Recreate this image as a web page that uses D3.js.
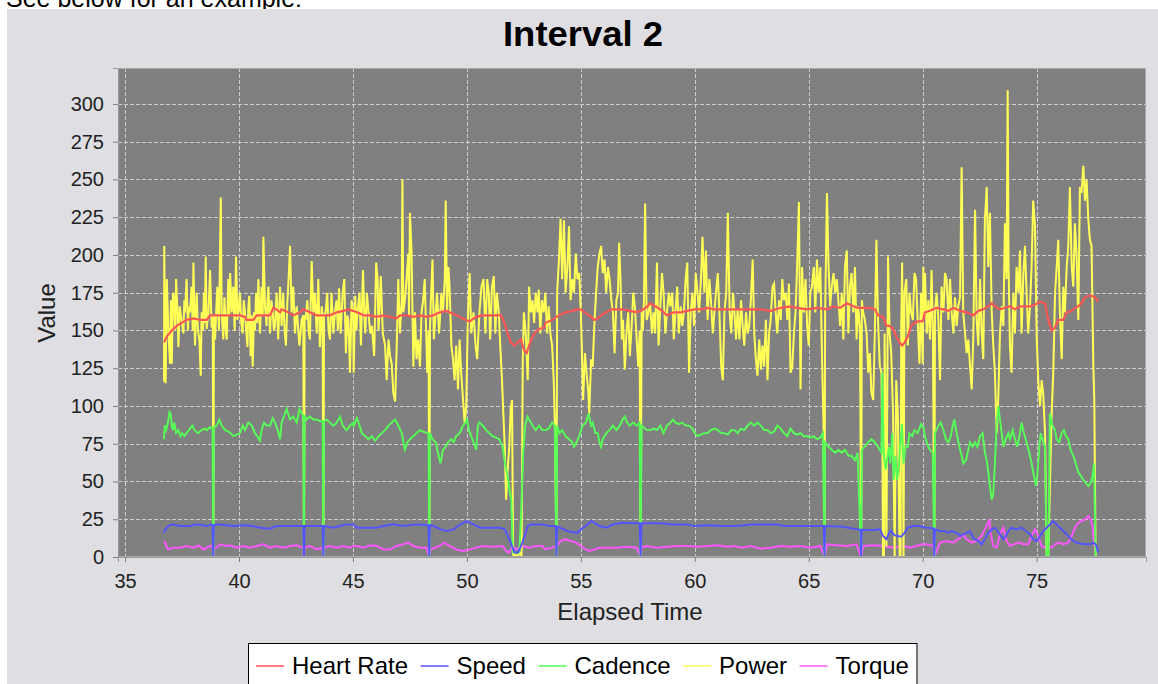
<!DOCTYPE html>
<html><head><meta charset="utf-8">
<script src="https://cdn.jsdelivr.net/npm/d3@7"></script>
<style>html,body{margin:0;padding:0;background:#fff;overflow:hidden}</style>
</head><body>
<svg id="c" width="1158" height="684"></svg>
<script>
// ---------------- DATA (elapsed time [min], value) ----------------
const seriesNames = ["Heart Rate", "Speed", "Cadence", "Power", "Torque"];
const xTicks = [35, 40, 45, 50, 55, 60, 65, 70, 75];
const yTicks = [0, 25, 50, 75, 100, 125, 150, 175, 200, 225, 250, 275, 300];

const heartRate = [[36.71,142],[36.83,146],[37.05,150],[37.27,153],[37.48,155],[37.70,157],[38.00,158],[38.29,157],[38.58,157],[38.73,160],[39.17,160],[39.46,160],[39.68,160],[40.04,160],[40.26,159],[40.33,157],[40.48,157],[40.63,157],[40.78,160],[41.07,160],[41.36,160],[41.51,165],[41.65,164],[41.80,162],[41.87,164],[42.02,163],[42.16,162],[42.38,160],[42.68,162],[42.82,164],[42.97,163],[43.11,162],[43.41,160],[43.70,160],[43.99,160],[44.28,162],[44.58,163],[44.80,164],[45.01,163],
[45.17,162],[45.47,160],[45.76,160],[46.04,159],[46.34,160],[46.63,159],[46.92,158],[47.06,160],[47.35,160],[47.65,159],[47.94,160],[48.23,159],[48.52,160],[48.81,162],[49.10,163],[49.24,162],[49.53,160],[49.83,158],[49.97,157],[50.12,156],[50.41,159],[50.70,160],[50.99,160],[51.28,160],[51.50,160],[51.64,155],[51.79,148],[51.93,142],[52.08,140],[52.22,142],[52.37,144],[52.51,137],[52.62,135],[52.73,140],[52.88,146],[53.02,149],[53.17,151],[53.39,152],
[53.44,155],[53.74,157],[54.04,160],[54.33,162],[54.63,163],[54.85,164],[55.00,164],[55.15,162],[55.37,160],[55.59,157],[55.74,158],[55.89,160],[56.11,162],[56.34,164],[56.63,164],[56.85,164],[57.15,163],[57.45,162],[57.74,164],[57.92,166],[58.04,168],[58.26,166],[58.49,164],[58.78,160],[59.08,162],[59.38,162],[59.67,163],[59.97,164],[60.27,164],[60.56,165],[60.86,164],[61.16,164],[61.45,164],[61.75,164],
[62.03,164],[62.46,164],[62.90,164],[63.33,163],[63.77,165],[64.20,166],[64.49,165],[64.93,164],[65.36,165],[65.80,164],[66.09,166],[66.38,165],[66.67,168],[66.96,166],[67.17,165],[67.39,165],[67.68,165],[67.90,164],[68.04,160],[68.26,159],[68.41,153],[68.55,153],[68.70,151],[68.84,146],[68.99,142],[69.10,140],[69.20,142],[69.35,146],[69.49,153],[69.64,155],[69.78,156],[70.00,156],
[70.10,162],[70.32,163],[70.61,165],[70.91,164],[71.13,163],[71.35,165],[71.64,163],[71.93,162],[72.22,160],[72.44,163],[72.66,164],[72.88,166],[73.03,168],[73.17,166],[73.39,164],[73.61,165],[73.83,166],[74.05,164],[74.27,166],[74.49,166],[74.71,166],[74.93,167],[75.15,169],[75.37,168],[75.51,157],[75.66,150],[75.81,152],[75.95,157],[76.17,157],[76.32,162],[76.54,163],[76.68,165],[76.83,166],[76.97,168],[77.12,172],[77.27,173],[77.41,173],[77.56,172],[77.70,169]];

const speed = [[36.71,16],[36.75,18],[36.90,20.5],[37.05,21.6],[37.41,20.5],[37.85,20.5],[38.14,21.6],[38.58,20.5],[38.80,21.6],[38.84,21],[38.87,0],[38.90,21],[39.02,21.6],[39.46,21],[39.75,20.5],[40.19,21],[40.63,20.5],[40.92,19.4],[41.36,18.7],[41.65,20.5],[42.09,20.5],[42.38,20.5],[42.68,20.5],[42.82,20.5],[42.85,0],[42.88,20.5],[43.41,20.5],[43.67,20.5],[43.70,0],[43.73,20.5],[44.14,19.4],[44.43,20.5],[44.72,21.6],[45.01,21.6],
[45.17,19.4],[45.61,19.4],[46.04,19.4],[46.34,20.5],[46.77,21.6],[47.21,20.5],[47.79,21.6],[48.32,21],[48.35,0],[48.38,21],[48.55,20.5],[48.84,18.3],[49.13,17.2],[49.42,18.3],[49.72,21.6],[50.00,23.8],[50.29,21.6],[50.58,19.4],[51.02,19.4],[51.45,19.4],[51.66,18.3],[51.80,13.9],[51.95,8.4],[52.09,2.9],[52.24,2.9],[52.38,7.3],[52.53,13.9],[52.67,20.5],[52.81,21.6],[53.31,21.6],
[53.59,20.5],[53.90,20.5],[53.93,0],[53.96,20],[54.26,18.3],[54.41,17.2],[54.63,16.5],[54.85,16],[55.00,18.3],[55.22,20.5],[55.45,23.8],[55.59,22.7],[55.82,20.5],[56.11,19.4],[56.41,21.6],[56.85,22.7],[57.30,22.3],[57.58,22.3],[57.62,0],[57.67,22.3],[58.49,22.3],[59.08,21.6],[59.67,21.6],[59.97,20.5],[60.56,21],[61.16,20.5],[61.75,20.5],
[62.17,21],[62.46,21.6],[63.04,21.6],[63.62,21.6],[63.91,20.5],[64.49,20.5],[65.07,20.5],[65.51,20.5],[65.66,20.5],[65.69,0],[65.72,20.5],[66.52,20],[66.96,18.7],[67.27,18],[67.30,0],[67.33,18],[67.83,17.9],[68.12,18.3],[68.26,13.9],[68.41,11.7],[68.52,16],[68.62,17.2],[68.77,14.3],[68.91,13.9],[69.06,13.4],[69.20,16],[69.35,19.4],[69.57,20.5],[69.86,20.5],
[70.18,19.4],[70.48,19],[70.51,0],[70.54,18.3],[70.76,17.2],[70.98,17.2],[71.13,16],[71.27,17.2],[71.49,16],[71.64,13.9],[71.78,15],[71.93,16],[72.08,17],[72.22,12.5],[72.44,10.6],[72.59,8.4],[72.73,11.7],[72.88,16],[73.03,18.3],[73.17,19.4],[73.39,15],[73.54,11.7],[73.65,13.9],[73.76,17.2],[73.90,19.4],[74.12,18.3],[74.34,19.4],[74.53,17.2],[74.71,15],[74.85,11.7],[75.00,10.6],[75.15,13.9],[75.29,17.2],[75.44,19.4],[75.59,21.6],[75.73,23.8],[75.88,21.6],[76.02,19.4],[76.17,17.2],[76.32,15],[76.46,12.8],[76.61,10.6],[76.75,9.5],[76.90,9],[77.19,8.4],[77.34,8.4],[77.49,9.5],[77.60,8.4],[77.70,2.9]];

const cadence = [[36.71,78],[36.74,87],[36.80,84],[36.88,89],[36.95,96],[37.00,95],[37.05,87],[37.10,84],[37.16,89],[37.24,82],[37.34,84],[37.43,80],[37.50,82],[37.60,80],[37.70,82],[37.80,84],[37.95,87],[38.05,84],[38.20,82],[38.35,84],[38.50,85],[38.60,84],[38.70,86],[38.84,85],[38.87,0],[38.90,86],[39.02,87],[39.14,91],[39.24,87],[39.39,84],[39.53,83],[39.63,82],[39.75,80],[39.90,81],[40.04,82],[40.16,87],[40.26,84],[40.41,89],[40.56,87],[40.70,82],[40.85,79],[40.92,77],[40.99,84],[41.10,89],[41.21,87],[41.36,87],[41.48,92],[41.58,89],[41.72,83],[41.80,78],[41.87,89],[41.97,93],[42.09,98],[42.24,91],[42.38,93],[42.53,89],[42.65,98],[42.75,95],[42.82,94],[42.85,0],[42.88,94],[42.97,91],[43.11,93],[43.26,91],[43.41,91],[43.55,90],[43.67,90],[43.70,0],[43.73,90],[43.85,91],[43.99,89],[44.14,87],[44.28,89],[44.43,93],[44.55,87],[44.72,84],[44.87,87],[45.01,89],
[45.03,87],[45.17,92],[45.29,87],[45.39,82],[45.54,80],[45.68,78],[45.83,80],[45.97,77],[46.12,80],[46.27,82],[46.41,84],[46.56,87],[46.70,89],[46.85,91],[46.99,87],[47.14,82],[47.28,71],[47.39,76],[47.50,78],[47.65,80],[47.79,82],[47.94,84],[48.08,83],[48.26,82],[48.32,82],[48.35,0],[48.38,82],[48.49,78],[48.63,76],[48.73,69],[48.84,62],[48.95,71],[49.07,73],[49.17,76],[49.32,78],[49.42,76],[49.53,80],[49.68,82],[49.83,87],[49.94,89],[50.00,91],[50.09,84],[50.19,80],[50.29,76],[50.41,71],[50.48,87],[50.55,89],[50.70,87],[50.84,84],[50.99,82],[51.13,80],[51.28,79],[51.42,78],[51.57,73],[51.69,60],[51.79,54],[51.86,45],[51.95,38],[52.01,3],[52.15,3],[52.30,3],[52.38,29],[52.47,69],[52.56,87],[52.66,93],[52.73,91],[52.88,87],[53.02,84],[53.17,87],[53.31,84],
[53.44,84],[53.59,85],[53.74,89],[53.86,87],[53.93,0],[53.96,87],[54.06,82],[54.18,84],[54.33,80],[54.48,78],[54.63,76],[54.70,73],[54.81,76],[54.93,80],[55.07,87],[55.22,89],[55.34,95],[55.45,87],[55.52,89],[55.64,82],[55.74,82],[55.82,76],[55.89,73],[55.96,78],[56.11,82],[56.26,84],[56.41,87],[56.56,84],[56.71,87],[56.83,91],[56.93,93],[57.03,89],[57.15,87],[57.30,89],[57.45,87],[57.58,89],[57.62,0],[57.67,87],[57.89,84],[58.04,84],[58.19,85],[58.34,84],[58.49,87],[58.63,82],[58.78,87],[58.93,89],[59.05,91],[59.15,89],[59.30,88],[59.45,89],[59.60,87],[59.75,87],[59.90,85],[60.00,82],[60.12,80],[60.27,81],[60.42,82],[60.56,82],[60.71,84],[60.86,85],[61.01,84],[61.16,82],[61.30,82],[61.45,81],[61.60,84],[61.75,84],
[61.88,82],[62.03,85],[62.17,84],[62.32,87],[62.46,89],[62.61,87],[62.75,89],[62.90,87],[63.04,84],[63.19,84],[63.33,82],[63.48,83],[63.62,87],[63.77,85],[63.91,82],[64.06,80],[64.20,85],[64.35,82],[64.49,81],[64.64,82],[64.78,80],[64.93,80],[65.07,79],[65.22,80],[65.36,78],[65.51,79],[65.62,82],[65.69,0],[65.72,76],[65.87,73],[66.01,71],[66.16,69],[66.30,71],[66.45,69],[66.59,71],[66.74,67],[66.88,67],[67.03,64],[67.14,69],[67.30,0],[67.33,71],[67.46,73],[67.61,76],[67.75,78],[67.90,76],[68.04,73],[68.19,69],[68.23,122],[68.29,69],[68.38,58],[68.43,64],[68.52,73],[68.58,62],[68.67,82],[68.72,51],[68.81,67],[68.87,51],[68.96,60],[69.01,73],[69.09,88],[69.16,62],[69.25,73],[69.35,73],[69.42,82],[69.54,80],[69.64,84],[69.78,82],[69.93,88],[70.00,86],
[70.03,86],[70.10,80],[70.18,76],[70.25,73],[70.32,71],[70.44,69],[70.51,0],[70.54,82],[70.69,87],[70.79,89],[70.91,84],[71.02,78],[71.13,76],[71.23,80],[71.32,87],[71.39,91],[71.49,82],[71.61,73],[71.71,67],[71.78,62],[71.90,64],[72.00,71],[72.08,76],[72.19,73],[72.30,76],[72.40,73],[72.52,80],[72.63,82],[72.73,69],[72.81,64],[72.88,56],[72.95,47],[73.03,38],[73.10,42],[73.17,62],[73.25,89],[73.32,100],[73.39,91],[73.47,82],[73.54,73],[73.65,78],[73.76,82],[73.83,78],[73.95,84],[74.05,78],[74.15,73],[74.27,82],[74.34,89],[74.44,82],[74.56,76],[74.68,69],[74.78,62],[74.88,54],[74.97,47],[75.03,54],[75.12,73],[75.18,82],[75.26,78],[75.37,73],[75.44,0],[75.52,0],[75.58,95],[75.70,87],[75.80,84],[75.88,78],[75.99,76],[76.10,82],[76.20,84],[76.29,80],[76.39,78],[76.49,71],[76.61,67],[76.72,62],[76.83,56],[76.93,54],[77.05,51],[77.16,49],[77.27,47],[77.37,49],[77.45,53],[77.52,62],[77.59,0]];

const power = [[36.71,116],[36.72,206],[36.75,144],[36.78,115],[36.83,184],[36.90,150],[36.97,128],[37.01,170],[37.05,128],[37.10,175],[37.15,172],[37.20,150],[37.24,184],[37.30,162],[37.34,139],[37.40,166],[37.44,161],[37.50,155],[37.56,148],[37.60,170],[37.63,162],[37.70,184],[37.76,150],[37.80,166],[37.85,162],[37.92,179],[37.97,150],[38.00,195],[38.07,140],[38.14,175],[38.20,150],[38.26,144],[38.32,120],[38.36,162],[38.42,150],[38.46,175],[38.50,155],[38.54,199],[38.58,151],[38.66,162],[38.73,190],[38.80,152],[38.85,160],[38.87,0],[38.90,160],[38.95,144],[39.02,170],[39.05,179],[39.12,150],[39.20,238],[39.24,162],[39.31,144],[39.36,172],[39.42,150],[39.46,144],[39.53,184],[39.57,160],[39.61,188],[39.68,162],[39.75,179],[39.81,150],[39.87,199],[39.93,157],[39.99,166],[40.04,175],[40.10,155],[40.16,148],[40.21,170],[40.26,162],[40.37,139],[40.41,165],[40.45,173],[40.51,133],[40.56,160],[40.60,126],[40.66,162],[40.70,150],[40.75,175],[40.80,155],[40.85,184],[40.92,148],[40.99,179],[41.04,160],[41.07,212],[41.14,166],[41.21,153],[41.25,170],[41.29,179],[41.36,148],[41.42,170],[41.48,162],[41.53,150],[41.58,153],[41.65,175],[41.72,144],[41.80,179],[41.87,153],[41.94,175],[42.00,150],[42.06,140],[42.12,168],[42.16,179],[42.24,206],[42.31,162],[42.38,179],[42.46,148],[42.53,166],[42.60,150],[42.65,140],[42.75,157],[42.82,160],[42.85,0],[42.88,160],[42.92,157],[43.00,170],[43.05,150],[43.11,144],[43.19,196],[43.26,162],[43.33,175],[43.41,148],[43.48,184],[43.55,139],[43.63,166],[43.67,160],[43.70,0],[43.73,160],[43.80,162],[43.87,175],[43.93,150],[43.99,144],[44.06,175],[44.14,148],[44.21,162],[44.28,170],[44.34,150],[44.39,178],[44.46,148],[44.55,175],[44.62,184],[44.69,135],[44.75,160],[44.80,157],[44.87,122],[44.94,170],[45.01,162],
[45.03,122],[45.10,173],[45.15,150],[45.20,162],[45.29,175],[45.35,140],[45.44,190],[45.50,160],[45.54,148],[45.61,175],[45.68,162],[45.76,148],[45.83,153],[45.93,133],[46.02,195],[46.08,184],[46.12,150],[46.16,162],[46.22,186],[46.31,148],[46.41,140],[46.48,117],[46.56,144],[46.63,133],[46.70,128],[46.77,109],[46.85,103],[46.92,140],[46.99,184],[47.06,148],[47.14,170],[47.17,250],[47.21,162],[47.28,170],[47.35,184],[47.43,201],[47.46,160],[47.50,228],[47.57,203],[47.65,126],[47.72,162],[47.79,131],[47.86,144],[47.94,126],[48.01,162],[48.08,170],[48.15,184],[48.26,122],[48.32,150],[48.35,0],[48.38,150],[48.40,162],[48.49,197],[48.55,144],[48.63,162],[48.69,175],[48.78,148],[48.88,175],[48.95,162],[49.03,184],[49.07,236],[49.13,162],[49.19,192],[49.24,179],[49.32,140],[49.39,131],[49.46,117],[49.53,140],[49.61,111],[49.68,144],[49.75,122],[49.83,104],[49.90,89],[49.97,100],[50.04,157],[50.12,188],[50.19,148],[50.29,162],[50.38,140],[50.45,131],[50.55,162],[50.64,179],[50.73,184],[50.81,148],[50.89,184],[50.96,175],[51.02,144],[51.10,179],[51.18,186],[51.25,148],[51.31,175],[51.40,162],[51.45,144],[51.54,117],[51.60,95],[51.66,73],[51.72,38],[51.79,58],[51.86,73],[51.92,98],[51.98,104],[52.03,0],[52.10,2],[52.20,0],[52.30,3],[52.40,0],[52.45,130],[52.50,162],[52.53,157],[52.59,146],[52.67,117],[52.73,179],[52.81,162],[52.88,170],[52.95,155],[53.02,175],[53.10,162],
[53.15,177],[53.22,148],[53.29,170],[53.37,162],[53.44,175],[53.52,148],[53.59,166],[53.66,148],[53.74,140],[53.81,117],[53.86,87],[53.93,0],[53.96,175],[54.04,197],[54.11,224],[54.18,184],[54.26,223],[54.33,175],[54.41,192],[54.48,219],[54.55,170],[54.63,184],[54.70,175],[54.78,201],[54.85,184],[54.93,188],[55.00,162],[55.04,140],[55.10,104],[55.18,135],[55.25,122],[55.33,109],[55.37,95],[55.45,131],[55.52,126],[55.59,153],[55.67,175],[55.74,192],[55.82,201],[55.89,206],[55.96,188],[56.04,197],[56.11,175],[56.19,192],[56.26,184],[56.34,170],[56.41,162],[56.48,135],[56.56,170],[56.63,175],[56.68,208],[56.74,184],[56.80,144],[56.85,157],[56.93,124],[57.00,148],[57.08,162],[57.15,133],[57.23,153],[57.30,175],[57.37,166],[57.45,144],[57.52,126],[57.58,150],[57.62,0],[57.67,162],[57.72,150],[57.77,170],[57.82,234],[57.89,157],[57.97,162],[58.04,168],[58.12,148],[58.19,162],[58.26,148],[58.34,195],[58.41,140],[58.49,166],[58.56,188],[58.63,175],[58.71,148],[58.78,162],[58.86,175],[58.93,166],[59.01,175],[59.08,144],[59.15,162],[59.23,179],[59.30,148],[59.38,166],[59.45,153],[59.52,162],[59.60,184],[59.67,195],[59.75,122],[59.82,162],[59.90,175],[59.97,153],[60.04,188],[60.12,175],[60.19,162],[60.27,184],[60.34,212],[60.42,175],[60.49,203],[60.56,157],[60.64,184],[60.71,170],[60.79,148],[60.86,162],[60.93,175],[61.01,188],[61.08,162],[61.16,126],[61.23,117],[61.30,162],[61.38,175],[61.45,228],[61.53,162],[61.60,148],[61.68,175],
[61.74,162],[61.81,144],[61.88,164],[61.96,144],[62.03,170],[62.10,153],[62.17,140],[62.25,162],[62.32,148],[62.39,153],[62.46,170],[62.54,197],[62.61,148],[62.68,131],[62.75,120],[62.83,144],[62.90,124],[62.97,140],[63.04,126],[63.12,157],[63.19,117],[63.26,148],[63.33,157],[63.41,179],[63.48,181],[63.55,162],[63.62,148],[63.70,170],[63.77,157],[63.84,184],[63.91,170],[63.99,175],[64.06,157],[64.13,181],[64.20,122],[64.28,126],[64.35,148],[64.42,162],[64.49,192],[64.57,235],[64.64,111],[64.71,192],[64.78,162],[64.86,184],[64.93,153],[65.00,140],[65.07,175],[65.14,179],[65.22,192],[65.29,162],[65.36,197],[65.43,175],[65.51,192],[65.58,135],[65.65,87],[65.69,0],[65.72,162],[65.80,241],[65.87,192],[65.94,166],[66.01,179],[66.09,188],[66.16,175],[66.23,184],[66.30,170],[66.38,153],[66.45,175],[66.52,144],[66.59,192],[66.67,203],[66.74,148],[66.81,179],[66.88,188],[66.96,162],[67.03,192],[67.10,144],[67.17,166],[67.25,150],[67.30,0],[67.33,170],[67.39,162],[67.46,157],[67.54,148],[67.61,122],[67.68,135],[67.75,109],[67.83,104],[67.90,148],[67.97,210],[68.04,157],[68.12,126],[68.19,122],[68.24,60],[68.26,0],[68.30,0],[68.33,148],[68.41,7],[68.48,199],[68.55,148],[68.62,135],[68.70,95],[68.77,0],[68.84,117],[68.91,95],[68.99,0],[69.03,0],[69.06,152],[69.10,195],[69.16,0],[69.20,175],[69.28,184],[69.35,140],[69.42,175],[69.49,162],[69.57,157],[69.64,188],[69.71,184],[69.78,157],[69.86,128],[69.93,175],
[70.00,128],[70.03,192],[70.06,162],[70.10,188],[70.18,148],[70.25,170],[70.32,144],[70.39,190],[70.45,148],[70.51,0],[70.54,162],[70.61,175],[70.69,157],[70.76,117],[70.83,179],[70.91,162],[70.98,188],[71.05,184],[71.13,157],[71.20,184],[71.27,162],[71.35,148],[71.42,172],[71.49,153],[71.56,166],[71.64,172],[71.71,258],[71.78,162],[71.86,148],[71.93,135],[72.00,144],[72.08,126],[72.15,111],[72.22,144],[72.30,230],[72.37,157],[72.44,140],[72.52,184],[72.59,148],[72.66,131],[72.73,223],[72.81,245],[72.88,192],[72.95,228],[73.03,162],[73.10,140],[73.17,122],[73.25,82],[73.32,106],[73.39,148],[73.47,166],[73.54,153],[73.61,221],[73.68,184],[73.73,309],[73.77,192],[73.83,140],[73.90,122],[73.98,175],[74.05,148],[74.12,192],[74.20,175],[74.27,203],[74.34,148],[74.42,188],[74.49,206],[74.56,175],[74.63,148],[74.71,166],[74.78,192],[74.85,236],[74.93,219],[75.00,148],[75.07,117],[75.15,100],[75.22,117],[75.29,108],[75.37,82],[75.44,0],[75.51,0],[75.59,51],[75.66,95],[75.73,122],[75.81,175],[75.88,192],[75.95,210],[76.02,162],[76.10,131],[76.17,179],[76.24,162],[76.32,192],[76.39,206],[76.46,245],[76.54,192],[76.61,179],[76.68,221],[76.75,201],[76.83,157],[76.90,245],[76.97,241],[77.05,259],[77.12,236],[77.19,250],[77.27,223],[77.34,210],[77.41,206],[77.49,126],[77.53,104],[77.59,0]];

const torque = [[36.71,10.6],[36.77,9.5],[36.80,7.3],[36.90,5],[37.12,6.2],[37.41,6.2],[37.70,7.3],[38.00,6.2],[38.22,7.7],[38.44,5],[38.73,7.3],[38.84,7],[38.87,0],[38.90,6],[39.02,6.2],[39.17,8.4],[39.39,7.3],[39.61,7.7],[39.90,6.2],[40.19,7.3],[40.48,6.2],[40.78,7.3],[41.07,8.4],[41.36,6.2],[41.65,7.3],[41.94,6.2],[42.24,7.3],[42.53,7.7],[42.82,6.2],[42.85,0],[42.88,6.5],[43.11,7.3],[43.41,5],[43.67,6.2],[43.70,0],[43.73,6.2],[43.99,7.3],[44.28,6.2],[44.58,7.3],[44.87,6.2],[45.01,7.3],
[45.17,7.3],[45.46,6.2],[45.76,7.7],[46.05,7.3],[46.34,5],[46.63,5],[46.92,7.3],[47.21,8.4],[47.43,9.5],[47.65,7.3],[47.94,6.2],[48.23,6.2],[48.35,0],[48.40,5],[48.80,7.3],[49.00,9.5],[49.24,7.3],[49.53,5],[49.83,4],[50.12,5],[50.41,6.2],[50.70,7.3],[51.13,6.8],[51.57,7.3],[51.72,4],[51.86,2.9],[52.01,7.3],[52.15,5],[52.30,6.2],[52.51,7.3],[52.73,6.2],[53.02,7.3],[53.31,7.3],
[53.44,5],[53.74,6.2],[53.96,7.3],[54.11,10.6],[54.33,11.7],[54.55,10.6],[54.78,9.5],[55.00,7.3],[55.22,5],[55.37,4],[55.59,5],[55.82,6.2],[56.11,6.2],[56.56,6.2],[57.00,6.8],[57.45,6.2],[57.62,0],[57.67,6.5],[57.89,7.3],[58.34,6.2],[58.78,6.8],[59.23,7.3],[59.67,7.3],[60.12,6.8],[60.56,7.3],[61.01,7.7],[61.45,6.8],[61.75,7.3],
[62.03,6.2],[62.46,7.3],[62.90,5.5],[63.33,6.2],[63.77,7.3],[64.20,6.8],[64.64,7.3],[65.07,6.2],[65.51,7.3],[65.69,0],[65.80,8.4],[66.23,7.7],[66.67,7.3],[67.10,8.4],[67.30,0],[67.39,7.3],[67.83,7.7],[68.26,7.3],[68.70,6.2],[69.13,7.3],[69.49,6.2],[69.71,7.3],[70.00,8.4],
[70.18,8.4],[70.47,7.3],[70.51,0],[70.76,9.5],[71.05,10.6],[71.35,9.5],[71.64,12.8],[71.78,15],[71.93,11.7],[72.15,9.5],[72.37,10.6],[72.59,13.9],[72.73,18.3],[72.88,22.7],[72.93,25],[72.98,16],[73.10,7.3],[73.25,6.2],[73.39,15],[73.54,19.4],[73.68,10.6],[73.83,7.3],[73.98,8.4],[74.20,9.5],[74.42,8.4],[74.63,8.4],[74.78,13.9],[74.93,18.3],[75.07,13.9],[75.22,7.3],[75.37,6.2],[75.51,7.3],[75.66,6.2],[75.81,8.4],[75.95,9.5],[76.17,8.4],[76.39,9.5],[76.54,13.9],[76.68,19.4],[76.83,22.7],[76.97,23.8],[77.12,24.9],[77.27,27.1],[77.37,24.9],[77.46,20.5],[77.52,9.5],[77.59,2.9]];

// ---------------- RENDER ----------------
const FONT = '"Liberation Sans", Arial, Helvetica, sans-serif';
const colors = {"Heart Rate":"#ff5555","Speed":"#5555ff","Cadence":"#55ff55","Power":"#ffff55","Torque":"#ff55ff"};
const seriesData = {"Heart Rate":heartRate,"Speed":speed,"Cadence":cadence,"Power":power,"Torque":torque};
const widths = {"Heart Rate":2.2,"Speed":2,"Cadence":1.9,"Power":2,"Torque":2};

const svg = d3.select('#c');
const plot = {left:118, top:68, right:1146, bottom:557};

svg.append('text').attr('x',6).attr('y',7).attr('font-family',FONT).attr('font-size',25)
  .attr('fill','#000').text('See below for an example:');
svg.append('rect').attr('x',7).attr('y',9).attr('width',1151).attr('height',675).attr('fill','#dfdee3');

const x = d3.scaleLinear().domain([34.69, 79.80]).range([plot.left, plot.right]);
const y = d3.scaleLinear().domain([0, 323.8]).range([plot.bottom, plot.top]);

// title
svg.append('text').attr('x',583).attr('y',46).attr('text-anchor','middle')
  .attr('font-family',FONT).attr('font-weight','bold').attr('font-size',35).attr('fill','#000')
  .attr('textLength',160).attr('lengthAdjust','spacingAndGlyphs')
  .text('Interval 2');

// plot background
svg.append('rect').attr('x',plot.left).attr('y',plot.top)
  .attr('width',plot.right-plot.left).attr('height',plot.bottom-plot.top).attr('fill','#808080');

// grid
const grid = svg.append('g').attr('stroke','#cfcfcf').attr('stroke-width',1).attr('stroke-dasharray','4,2');
grid.selectAll('line.v').data(xTicks).join('line').attr('class','v')
  .attr('x1',d=>Math.round(x(d))+0.5).attr('x2',d=>Math.round(x(d))+0.5)
  .attr('y1',plot.top).attr('y2',plot.bottom);
grid.selectAll('line.h').data(yTicks.filter(d=>d>0)).join('line').attr('class','h')
  .attr('y1',d=>Math.round(y(d))+0.5).attr('y2',d=>Math.round(y(d))+0.5)
  .attr('x1',plot.left).attr('x2',plot.right);

// series
svg.append('clipPath').attr('id','clip').append('rect')
  .attr('x',plot.left).attr('y',plot.top).attr('width',plot.right-plot.left).attr('height',plot.bottom-plot.top);
const line = d3.line().x(d=>x(d[0])).y(d=>y(d[1]));
const gLines = svg.append('g').attr('clip-path','url(#clip)');
seriesNames.slice().reverse().forEach(name=>{
  const data = seriesData[name].slice().sort((a,b)=>a[0]-b[0]);
  gLines.append('path').datum(data).attr('d',line).attr('fill','none')
    .attr('stroke',colors[name]).attr('stroke-width',widths[name]).attr('stroke-linejoin','miter');
});

// plot outline
svg.append('rect').attr('x',plot.left+0.5).attr('y',plot.top+0.5)
  .attr('width',plot.right-plot.left-1).attr('height',plot.bottom-plot.top-1)
  .attr('fill','none').attr('stroke','#a8a8a8').attr('stroke-width',1);

// axes
const yAxis = svg.append('g').attr('transform',`translate(${plot.left},0)`)
  .call(d3.axisLeft(y).tickValues(yTicks).tickSize(5).tickPadding(9).tickFormat(d3.format('d')));
const xAxis = svg.append('g').attr('transform',`translate(0,${plot.bottom})`)
  .call(d3.axisBottom(x).tickValues(xTicks).tickSize(5).tickPadding(12).tickFormat(d3.format('d')));
[yAxis,xAxis].forEach(a=>{
  a.select('.domain').attr('stroke','#9a9a9a');
  a.selectAll('.tick line').attr('stroke','#808080');
  a.selectAll('.tick text').attr('font-family',FONT).attr('font-size',20).attr('fill','#222');
});

// axis labels
svg.append('text').attr('transform','translate(55,313) rotate(-90)').attr('text-anchor','middle')
  .attr('font-family',FONT).attr('font-size',24).attr('fill','#222').text('Value');
svg.append('text').attr('x',630).attr('y',620).attr('text-anchor','middle')
  .attr('font-family',FONT).attr('font-size',24).attr('fill','#222').text('Elapsed Time');

// legend
const lg = svg.append('g');
const box = lg.append('rect').attr('y',643.5).attr('height',60).attr('fill','#fff')
  .attr('stroke','#000').attr('stroke-width',1);
let cx = 256;
seriesNames.forEach(name=>{
  lg.append('line').attr('x1',cx).attr('x2',cx+28).attr('y1',666).attr('y2',666)
    .attr('stroke',colors[name]).attr('stroke-width',1.5);
  const t = lg.append('text').attr('x',cx+36).attr('y',674).attr('font-family',FONT)
    .attr('font-size',24).attr('fill','#000').text(name);
  cx = cx + 36 + t.node().getComputedTextLength() + 12.5;
});
box.attr('x',248.5).attr('width',cx - 12.5 + 8 - 248.5);
</script>
</body></html>
